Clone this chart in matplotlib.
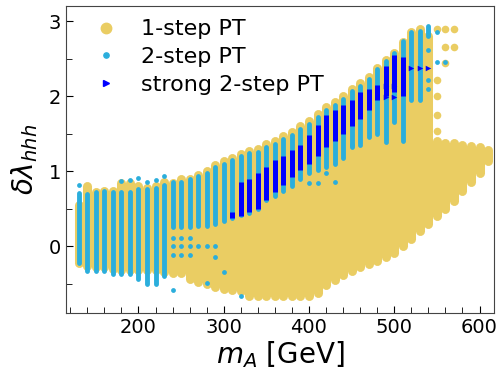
import matplotlib.pyplot as plt
from matplotlib.lines import Line2D
from matplotlib.ticker import MultipleLocator

# 1-step PT : columns of points (m_A, lowest / highest delta lambda)
m_one = [130, 140, 150, 160, 170, 180, 190, 200, 210, 220, 230, 240, 250,
         260, 270, 280, 290, 300, 310, 320, 330, 340, 350, 360, 370, 380,
         390, 400, 410, 420, 430, 440, 450, 460, 470, 480, 490, 500, 510,
         520, 530, 540, 550, 560, 570, 580, 590, 600, 610]
lo_one = [-0.22, -0.26, -0.28, -0.28, -0.30, -0.32, -0.32, -0.32, -0.32, -0.32,
          -0.34, -0.36, -0.36, -0.44, -0.48, -0.50, -0.54, -0.57, -0.58, -0.60,
          -0.66, -0.67, -0.67, -0.67, -0.67, -0.67, -0.67, -0.66, -0.62, -0.52,
          -0.45, -0.39, -0.33, -0.28, -0.24, -0.20, -0.14, -0.09, 0.00, 0.09,
          0.20, 0.30, 0.40, 0.50, 0.60, 0.74, 0.86, 0.98, 1.14]
hi_one = [0.55, 0.80, 0.72, 0.74, 0.73, 0.84, 0.84, 0.80, 0.78, 0.80, 0.86,
          0.84, 0.90, 0.90, 0.95, 1.00, 1.08, 1.13, 1.18, 1.23, 1.27, 1.30,
          1.36, 1.40, 1.47, 1.52, 1.60, 1.67, 1.76, 1.85, 1.92, 2.00, 2.10,
          2.17, 2.26, 2.38, 2.48, 2.58, 2.72, 2.85, 2.90, 2.80, 1.40, 1.38,
          1.37, 1.35, 1.33, 1.32, 1.28]
m_one_extra = [550, 560, 570, 560, 570, 560, 550, 550, 550, 550]
y_one_extra = [2.90, 2.90, 2.90, 2.66, 2.66, 2.44, 2.21, 2.00, 1.75, 1.53]

# 2-step PT
m_two = [130, 140, 150, 160, 170, 180, 190, 200, 210, 220, 230, 240, 250,
         260, 270, 280, 290, 300, 310, 320, 330, 340, 350, 360, 370, 380,
         390, 400, 410, 420, 430, 440, 450, 460, 470, 480, 490, 500, 510,
         520, 530, 540]
lo_two = [-0.23, -0.33, -0.33, -0.33, -0.37, -0.37, -0.37, -0.44, -0.50, -0.50,
          -0.40, 0.25, 0.25, 0.25, 0.27, 0.27, 0.29, 0.34, 0.38, 0.42, 0.44,
          0.49, 0.62, 0.67, 0.73, 0.80, 0.90, 0.98, 1.02, 1.05, 1.10, 1.18,
          1.32, 1.38, 1.45, 1.50, 1.42, 1.65, 1.40, 1.95, 1.95, 2.80]
hi_two = [0.71, 0.70, 0.72, 0.73, 0.72, 0.72, 0.72, 0.76, 0.76, 0.78, 0.82,
          0.85, 0.86, 0.89, 0.93, 0.97, 1.05, 1.10, 1.15, 1.20, 1.24, 1.26,
          1.32, 1.36, 1.43, 1.48, 1.56, 1.63, 1.72, 1.81, 1.88, 1.96, 2.07,
          2.14, 2.23, 2.36, 2.47, 2.58, 2.74, 2.85, 2.87, 2.93]
m_two_extra = [130, 180, 190, 200, 210, 220, 230, 240, 240, 240, 250, 250,
               250, 260, 260, 260, 270, 280, 290, 290, 300, 280, 240, 320,
               340, 360, 400, 410, 420, 430, 450, 460, 490, 550, 540, 550,
               560, 540, 540]
y_two_extra = [0.81, 0.87, 0.88, 0.91, 0.85, 0.88, 0.93, 0.11, 0.00, -0.12,
               0.11, 0.00, -0.12, 0.11, 0.00, -0.12, 0.00, 0.00, 0.00, -0.14,
               -0.34, -0.49, -0.59, -0.67, 0.97, 0.97, 0.84, 0.84, 0.98, 0.86,
               1.35, 1.35, 1.39, 2.86, 2.61, 2.46, 2.46, 2.21, 2.10]

# strong 2-step PT
m_strong = [310, 320, 330, 340, 350, 360, 370, 380, 390, 400, 410, 420, 430,
            440, 450, 460, 470, 480, 490, 500, 510]
lo_strong = [0.38, 0.40, 0.45, 0.50, 0.62, 0.72, 0.82, 0.92, 1.02, 1.10, 1.20,
             1.32, 1.40, 1.50, 1.60, 1.70, 1.82, 1.95, 2.00, 2.05, 2.00]
hi_strong = [0.45, 0.85, 0.90, 0.98, 1.05, 1.15, 1.20, 1.28, 1.35, 1.48, 1.62,
             1.75, 1.82, 1.88, 1.95, 2.05, 2.10, 2.15, 2.40, 2.55, 2.52]
m_strong_extra = [520, 530, 540, 490, 500, 490, 500]
y_strong_extra = [2.38, 2.38, 2.38, 2.13, 2.13, 1.99, 1.99]

c_one = '#EACD63'
c_two = '#2BAEDC'
c_strong = '#0000FF'

fig = plt.figure(figsize=(4.99, 3.73), dpi=100)
ax = fig.add_axes([66 / 499, 1 - 313 / 373, 428 / 499, 307 / 373])

# 点の列を丸い端の線で描く
ax.vlines(m_one, lo_one, hi_one, colors=c_one, linewidth=6.5,
          capstyle='round', zorder=1)
ax.scatter(m_one_extra, y_one_extra, s=30, color=c_one, lw=0, zorder=1)
ax.vlines(m_two, lo_two, hi_two, colors=c_two, linewidth=3.5,
          capstyle='round', zorder=2)
ax.scatter(m_two_extra, y_two_extra, s=12, color=c_two, lw=0, zorder=2)
ax.vlines(m_strong, lo_strong, hi_strong, colors=c_strong, linewidth=3.6,
          capstyle='butt', zorder=3)
ax.scatter(m_strong_extra, y_strong_extra, s=16, marker='>', color=c_strong,
           lw=0, zorder=3)

ax.set_xlim(115, 617)
ax.set_ylim(-0.89, 3.2)
ax.xaxis.set_major_locator(MultipleLocator(100))
ax.xaxis.set_minor_locator(MultipleLocator(20))
ax.yaxis.set_major_locator(MultipleLocator(1))
ax.yaxis.set_minor_locator(MultipleLocator(0.5))
ax.tick_params(which='both', direction='in', labelsize=14)
ax.tick_params(which='major', length=5)
ax.tick_params(which='minor', length=4)
for sp in ax.spines.values():
    sp.set_color('#444444')

ax.set_xlabel('$m_A$ [GeV]', fontsize=20, labelpad=2)
ax.set_ylabel(r'$\delta\lambda_{hhh}$', fontsize=20, labelpad=6)

handles = [
    Line2D([], [], ls='', marker='o', ms=7.5, color=c_one),
    Line2D([], [], ls='', marker='o', ms=3.8, color=c_two),
    Line2D([], [], ls='', marker='>', ms=3.8, color=c_strong),
]
ax.legend(handles, ['1-step PT', '2-step PT', 'strong 2-step PT'],
          loc='upper left', frameon=False, fontsize=16, labelspacing=0.35,
          handletextpad=0.6, borderaxespad=0.2, bbox_to_anchor=(0.01, 1.0))

fig.savefig('out.png', dpi=100)
